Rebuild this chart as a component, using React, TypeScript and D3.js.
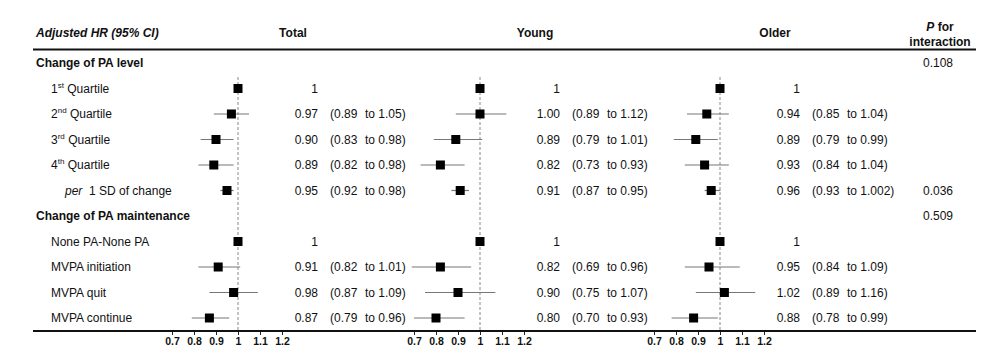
import React, { useEffect, useRef } from 'react';
import * as d3 from 'd3';

// rows of the table (section headers included so indices line up)
const rowLabels = [
  'Change of PA level',
  '1st Quartile',
  '2nd Quartile',
  '3rd Quartile',
  '4th Quartile',
  'per 1 SD of change',
  'Change of PA maintenance',
  'None PA-None PA',
  'MVPA initiation',
  'MVPA quit',
  'MVPA continue',
];
const sectionRows = [0, 6];
const superscripts = ['', 'st', 'nd', 'rd', 'th', '', '', '', '', '', ''];

const totalHR = [null, 1, 0.97, 0.9, 0.89, 0.95, null, 1, 0.91, 0.98, 0.87];
const totalLo = [null, null, 0.89, 0.83, 0.82, 0.92, null, null, 0.82, 0.87, 0.79];
const totalHi = [null, null, 1.05, 0.98, 0.98, 0.98, null, null, 1.01, 1.09, 0.96];

const youngHR = [null, 1, 1.0, 0.89, 0.82, 0.91, null, 1, 0.82, 0.9, 0.8];
const youngLo = [null, null, 0.89, 0.79, 0.73, 0.87, null, null, 0.69, 0.75, 0.7];
const youngHi = [null, null, 1.12, 1.01, 0.93, 0.95, null, null, 0.96, 1.07, 0.93];

const olderHR = [null, 1, 0.94, 0.89, 0.93, 0.96, null, 1, 0.95, 1.02, 0.88];
const olderLo = [null, null, 0.85, 0.79, 0.84, 0.93, null, null, 0.84, 0.89, 0.78];
const olderHi = [null, null, 1.04, 0.99, 1.04, 1.002, null, null, 1.09, 1.16, 0.99];

const pInteraction = ['0.108', '', '', '', '', '0.036', '0.509', '', '', '', ''];

const groupNames = ['Total', 'Young', 'Older'];
const tickValues = [0.7, 0.8, 0.9, 1, 1.1, 1.2];

const groups = [
  { name: groupNames[0], hr: totalHR, lo: totalLo, hi: totalHi, center: 238 },
  { name: groupNames[1], hr: youngHR, lo: youngLo, hi: youngHi, center: 480 },
  { name: groupNames[2], hr: olderHR, lo: olderLo, hi: olderHi, center: 720 },
];

const FONT = 'Liberation Sans, Arial, Helvetica, sans-serif';

// show at least two decimals, keep extra ones (1.002)
const fmt = (v: number) => {
  const s = String(v);
  const dec = s.includes('.') ? s.split('.')[1].length : 0;
  return dec >= 2 ? s : v.toFixed(2);
};

const Panel = ({ g, y }: { g: any; y: d3.ScalePoint<number> }) => {
  const axisRef = useRef<SVGGElement>(null);
  const x = d3.scaleLinear().domain([0.7, 1.2]).range([g.center - 66, g.center + 44]);

  useEffect(() => {
    const ax = d3.select(axisRef.current);
    ax.selectAll('*').remove();
    ax.call(
      d3.axisBottom(x)
        .tickValues(tickValues)
        .tickSize(3)
        .tickPadding(3)
        .tickFormat((d: any) => (d === 1 ? '1' : String(d)))
    );
    ax.select('.domain').remove();
    ax.selectAll('line').attr('stroke', '#222');
    ax.selectAll('text')
      .attr('font-family', FONT)
      .attr('font-size', 10.5)
      .attr('font-weight', 'bold')
      .attr('fill', '#111');
  }, []);

  const idx = d3.range(rowLabels.length).filter(i => g.hr[i] != null);

  return (
    <g>
      <text x={g.center + 55} y={33} dy="0.35em" textAnchor="middle" fontWeight="bold" fontSize={12}>
        {g.name}
      </text>
      <line x1={x(1)} x2={x(1)} y1={77} y2={331} stroke="#888" strokeDasharray="3,2" strokeWidth={1} />
      {idx.map(i => (
        <g key={i}>
          {g.lo[i] != null && (
            <line x1={x(g.lo[i])} x2={x(g.hi[i])} y1={y(i)} y2={y(i)} stroke="#777" strokeWidth={1.2} />
          )}
          <rect x={x(g.hr[i]) - 4.5} y={(y(i) as number) - 4.5} width={9} height={9} fill="#000" />
          <text x={g.center + 80} y={y(i)} dy="0.35em" textAnchor="end" fontSize={12}>
            {g.lo[i] == null ? '1' : fmt(g.hr[i])}
          </text>
          {g.lo[i] != null && (
            <>
              <text x={g.center + 92} y={y(i)} dy="0.35em" fontSize={12}>{'(' + fmt(g.lo[i])}</text>
              <text x={g.center + 127} y={y(i)} dy="0.35em" fontSize={12}>{'to ' + fmt(g.hi[i]) + ')'}</text>
            </>
          )}
        </g>
      ))}
      <g ref={axisRef} transform="translate(0,332)" />
    </g>
  );
};

const RowLabel = ({ i, y }: { i: number; y: number }) => {
  const label = rowLabels[i];
  if (sectionRows.includes(i)) {
    return (
      <text x={36} y={y} dy="0.35em" fontWeight="bold" fontSize={12}>{label}</text>
    );
  }
  if (label.startsWith('per ')) {
    return (
      <g>
        <text x={65} y={y} dy="0.35em" fontSize={12} fontStyle="italic">per</text>
        <text x={89} y={y} dy="0.35em" fontSize={12}>{label.slice(4)}</text>
      </g>
    );
  }
  const sup = superscripts[i];
  if (sup) {
    return (
      <text x={51} y={y} dy="0.35em" fontSize={12}>
        <tspan>{label.slice(0, 1)}</tspan>
        <tspan fontSize={8} dy={-5}>{sup}</tspan>
        <tspan dy={5}>{label.slice(1 + sup.length)}</tspan>
      </text>
    );
  }
  return (
    <text x={51} y={y} dy="0.35em" fontSize={12}>{label}</text>
  );
};

export default function App() {
  const width = 1000;
  const height = 362;

  const y = d3.scalePoint<number>()
    .domain(d3.range(rowLabels.length))
    .range([63, 318]);

  return (
    <svg
      width={width}
      height={height}
      style={{ position: 'absolute', left: 0, top: 0, background: '#fff' }}
      fontFamily={FONT}
      fill="#111"
    >
      <text x={36} y={33} dy="0.35em" fontWeight="bold" fontStyle="italic" fontSize={12}>
        Adjusted HR (95% CI)
      </text>
      <text x={940} y={27} dy="0.35em" textAnchor="middle" fontWeight="bold" fontSize={12}>
        <tspan fontStyle="italic">P</tspan> for
      </text>
      <text x={940} y={42} dy="0.35em" textAnchor="middle" fontWeight="bold" fontSize={12}>
        interaction
      </text>
      <line x1={33} x2={976} y1={49.5} y2={49.5} stroke="#111" strokeWidth={2} />
      <line x1={33} x2={976} y1={331} y2={331} stroke="#111" strokeWidth={2} />

      {rowLabels.map((_, i) => (
        <RowLabel key={i} i={i} y={y(i) as number} />
      ))}

      {groups.map(g => (
        <Panel key={g.name} g={g} y={y} />
      ))}

      {pInteraction.map((p, i) =>
        p ? (
          <text key={i} x={938} y={y(i)} dy="0.35em" textAnchor="middle" fontSize={12}>{p}</text>
        ) : null
      )}
    </svg>
  );
}
